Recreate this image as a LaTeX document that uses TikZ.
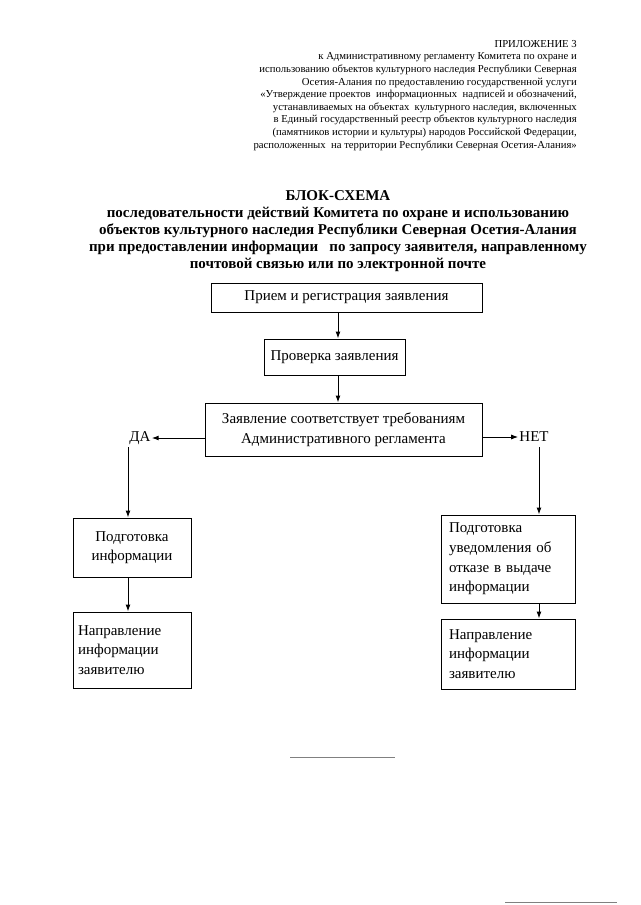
\documentclass[tikz,border=0pt]{standalone}
\usepackage{fontspec}
\setmainfont{Liberation Serif}
\usepackage{tikz}
\usetikzlibrary{arrows.meta, positioning}

\begin{document}
\begin{tikzpicture}[x=10pt,y=10pt]
            \tikzstyle{every node}+=[inner sep=0pt, font=\fontsize{15}{19.6}\selectfont]
            \tikzstyle{blok}=[draw=black, line width=1pt]
            \tikzstyle{arr}=[-{Latex[length=7pt,width=5pt]}, line width=1pt]
            \useasboundingbox (0,0) rectangle (64,-90.5);
            \node (pril) [anchor=north east, align=right, font=\fontsize{10.7}{12.6}\selectfont] at (57.7,-4.0) {ПРИЛОЖЕНИЕ 3\\к Административному регламенту Комитета по охране и\\использованию объектов культурного наследия Республики Северная\\Осетия-Алания по предоставлению государственной услуги\\«Утверждение проектов \ информационных \ надписей и обозначений,\\устанавливаемых на объектах \ культурного наследия, включенных\\в Единый государственный реестр объектов культурного наследия\\(памятников истории и культуры) народов Российской Федерации,\\расположенных \ на территории Республики Северная Осетия-Алания»};
            \node (title) [anchor=north, align=center, font=\bfseries\fontsize{15}{17}\selectfont] at (33.8,-19.0) {БЛОК-СХЕМА\\последовательности действий Комитета по охране и использованию\\объектов культурного наследия Республики Северная Осетия-Алания\\при предоставлении информации \ \ по запросу заявителя, направленному\\почтовой связью или по электронной почте};
            \node (b1) [blok, minimum width=271pt, minimum height=29pt] at (34.65,-29.75) {Прием и регистрация заявления};
            \node (b2) [blok, minimum width=141pt, minimum height=36pt] at (33.45,-35.7) {Проверка заявления};
            \node (b3) [blok, minimum width=277pt, minimum height=53pt, align=center] at (34.35,-42.95) {Заявление соответствует требованиям\\Административного регламента};
            \node (da) at (14.0,-43.8) {ДА};
            \node (net) at (53.4,-43.7) {НЕТ};
            \node (b4) [blok, minimum width=118pt, minimum height=59pt, align=center] at (13.2,-54.75) {Подготовка\\информации};
            \node (b5) [blok, minimum width=118pt, minimum height=76pt, text width=108pt, align=left] at (13.2,-65.0) {Направление\\информации\\заявителю};
            \node (b6) [blok, minimum width=134pt, minimum height=88pt, text width=118pt, align=left] at (50.8,-55.9) {Подготовка\\уведомления об\\отказе в выдаче\\информации};
            \node (b7) [blok, minimum width=134pt, minimum height=70pt, text width=118pt, align=left] at (50.8,-65.4) {Направление\\информации\\заявителю};
            \coordinate (mid) at (33.8,0);
            \coordinate (dl) at (12.8,-44.7);
            \coordinate (nr) at (53.9,-44.7);
            \draw [arr] (mid |- b1.south) -- (mid |- b2.north);
            \draw [arr] (mid |- b2.south) -- (mid |- b3.north);
            \draw [arr, shorten >=1pt] (b3.west |- da) -- (da.east);
            \draw [arr, shorten >=1pt] (b3.east |- net) -- (net.west);
            \draw [arr] (dl) -- (dl |- b4.north);
            \draw [arr] (dl |- b4.south) -- (dl |- b5.north);
            \draw [arr] (nr) -- (nr |- b6.north);
            \draw [arr] (nr |- b6.south) -- (nr |- b7.north);
            \draw [gray, line width=0.8pt] (29,-75.7) -- (39.5,-75.7);
            \draw [gray, line width=0.8pt] (50.5,-90.2) -- (61.7,-90.2);
\end{tikzpicture}
\end{document}
